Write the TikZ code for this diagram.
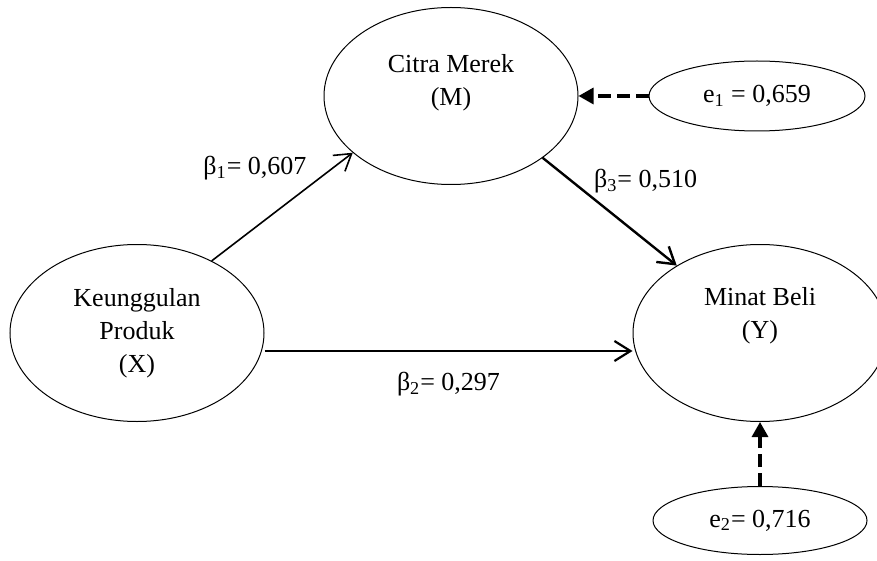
\documentclass[tikz,border=0pt]{standalone}
\usepackage{fontspec}
\setmainfont{Liberation Serif}
\usepackage{tikz}
\usetikzlibrary{arrows,arrows.meta,positioning,shapes,calc}

\begin{document}
\begin{tikzpicture}[x=0.5pt,y=-0.5pt,auto,
    >={Straight Barb[length=8pt,width=10pt]},
    font=\fontsize{13}{16.5}\selectfont,
    latent/.style={ellipse,draw,line width=0.5pt,align=center,
      minimum width=127pt,minimum height=88.5pt},
    errnode/.style={ellipse,draw,line width=0.5pt,
      minimum width=108pt,minimum height=35pt},
    effect/.style={->,line width=1.1pt},
    noise/.style={-{Triangle[length=7.5pt,width=8pt]},line width=1.6pt,
      dash pattern=on 6.5pt off 3pt},
    coef/.style={inner sep=1pt}]
  \useasboundingbox (0,0) rectangle (877,561);

  \node[latent] (X) at (137,333) {Keunggulan\\Produk\\(X)};
  \node[latent] (M) at (451,96) {Citra Merek\\(M)\\\mbox{}};
  \node[latent] (Y) at (760,333) {Minat Beli\\(Y)\\[4pt]\mbox{}};
  \node[errnode, right=35pt of M] (e1) {e\textsubscript{1} = 0,659};
  \node[errnode, below=32pt of Y, minimum width=107pt, minimum height=34pt] (e2) {e\textsubscript{2}= 0,716};

  \path
    (X.44) edge [effect, line width=0.8pt] node[coef, pos=.72, xshift=-2pt] {β\textsubscript{1}= 0,607} (M.210)
    (M.326) edge [effect, line width=1.2pt] node[coef, pos=.36] {β\textsubscript{3}= 0,510} (Y.141)
    ([yshift=-9pt]X.east) edge [effect] node[coef, swap, midway, yshift=-9pt] {β\textsubscript{2}= 0,297} ([yshift=-9pt]Y.west)
    (e1) edge [noise] (M)
    (e2) edge [noise] (Y)
  ;
\end{tikzpicture}
\end{document}
